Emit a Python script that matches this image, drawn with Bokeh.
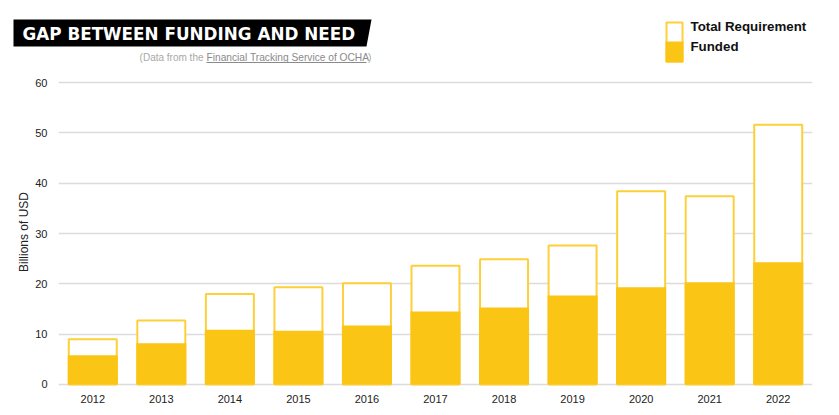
from bokeh.plotting import figure
from bokeh.layouts import column
from bokeh.models import FactorRange, Range1d, FixedTicker, ColumnDataSource
from bokeh.core.properties import value
from bokeh.embed import file_html
from bokeh.resources import INLINE

years = ["2012", "2013", "2014", "2015", "2016", "2017", "2018", "2019", "2020", "2021", "2022"]
total_requirement = [9.0, 12.7, 18.0, 19.3, 20.1, 23.6, 24.9, 27.6, 38.4, 37.4, 51.6]
funded = [5.8, 8.2, 10.9, 10.7, 11.7, 14.5, 15.3, 17.7, 19.3, 20.3, 24.3]
y_ticks = [0, 10, 20, 30, 40, 50, 60]

FUND = "#FBC515"
OUTL = "#FDD03A"
FONT = "Liberation Sans"
W = 839
HEAD_H = 74
CHART_H = 341

# ---------- header (title, source note, legend) ----------
h = figure(width=W, height=HEAD_H, x_range=Range1d(0, W), y_range=Range1d(HEAD_H, 0),
           x_axis_type=None, y_axis_type=None, output_backend="svg", toolbar_location=None,
           min_border=0, min_border_left=0, min_border_right=0, min_border_top=0, min_border_bottom=0)
h.outline_line_color = None
h.xgrid.visible = False
h.ygrid.visible = False
h.frame_align = False

h.patch(x=[13, 371, 366, 13], y=[19, 19, 46, 46], fill_color="black", line_color=None)
h.text(x=[22], y=[33], text=["GAP BETWEEN FUNDING AND NEED"], text_font=value("DejaVu Sans"),
       text_font_style="bold", text_font_size="16.8px", text_color="white",
       text_baseline="middle", text_align="left")

h.text(x=[203], y=[57], text=["(Data from the"], text_font=value(FONT), text_font_size="10px",
       text_color="#A8A8A8", text_baseline="middle", text_align="right")
h.text(x=[206], y=[57], text=["Financial Tracking Service of OCHA"], text_font=value(FONT),
       text_font_size="10.2px", text_color="#8A8A8A", text_baseline="middle", text_align="left")
h.text(x=[371], y=[57], text=[")"], text_font=value(FONT), text_font_size="10.2px",
       text_color="#A8A8A8", text_baseline="middle", text_align="right")
h.line(x=[206, 366], y=[62, 62], line_color="#8A8A8A", line_width=1)

h.quad(left=[666], right=[682], top=[22], bottom=[61], fill_color="white",
       line_color=OUTL, line_width=2)
h.quad(left=[665], right=[683], top=[41], bottom=[62], fill_color=FUND, line_color=None)
h.text(x=[690, 690], y=[26, 46], text=["Total Requirement", "Funded"], text_font=value(FONT),
       text_font_style="bold", text_font_size="13.3px", text_color="#111111",
       text_baseline="middle", text_align="left")

# ---------- chart ----------
src = ColumnDataSource(dict(year=years, total=total_requirement, funded=funded))

p = figure(width=W, height=CHART_H, x_range=FactorRange(*years, range_padding=0),
           y_range=Range1d(-0.4, 61), output_backend="svg", toolbar_location=None,
           min_border_left=58, min_border_right=27, min_border_top=3, min_border_bottom=29)
p.outline_line_color = None
p.frame_align = False

p.vbar(x="year", top="total", width=0.70, source=src, fill_color="white",
       line_color=OUTL, line_width=2)
p.vbar(x="year", top="funded", width=0.73, source=src, fill_color=FUND, line_color=None)

p.xgrid.grid_line_color = None
p.ygrid.grid_line_color = "#DCDCDC"
p.ygrid.grid_line_width = 1.5
p.yaxis.ticker = FixedTicker(ticks=y_ticks)
for ax in (p.xaxis, p.yaxis):
    ax.axis_line_color = None
    ax.major_tick_line_color = None
    ax.minor_tick_line_color = None
    ax.major_label_text_font = FONT
    ax.major_label_text_font_size = "11px"
    ax.major_label_text_color = "#222222"
p.xaxis.major_label_standoff = 2
p.yaxis.major_label_standoff = 5
p.yaxis.axis_label = "Billions of USD"
p.yaxis.axis_label_text_font = FONT
p.yaxis.axis_label_text_font_style = "normal"
p.yaxis.axis_label_text_font_size = "12px"
p.yaxis.axis_label_text_color = "#222222"
p.yaxis.axis_label_standoff = 1

layout = column(h, p, spacing=0)
open("out.html", "w").write(file_html(layout, INLINE))
